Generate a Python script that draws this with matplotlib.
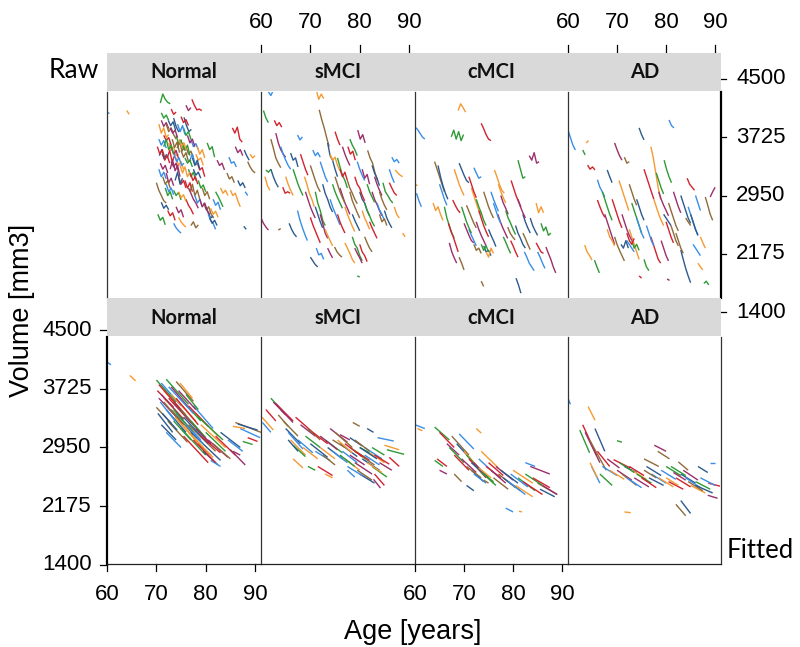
import matplotlib
matplotlib.use('Agg')
import matplotlib.pyplot as plt
from matplotlib.patches import Rectangle
from matplotlib.transforms import blended_transform_factory

# groups / panel labels
GROUPS = ['Normal', 'sMCI', 'cMCI', 'AD']
AGE_TICKS = [60, 70, 80, 90]
VOL_TICKS = [4500, 3725, 2950, 2175, 1400]
# visit times (years after baseline)
VISIT_YEARS = [0.0, 0.5, 1.0, 1.5, 2.0, 2.5]

COLORS = ['#3a8ee6', '#f59a33', '#2e9a35', '#d2232e', '#9b2f6b', '#8e6b3a', '#2d5b8e']

# raw data: (baseline age, volumes at each visit)
RAW_NORMAL = [
    (60.0, [4060, 4040]), (64.0, [4080, 4030]), (70.8, [4180, 4300, 4230, 4190, 4170]),
    (77.2, [4230, 4150, 4090, 4100, 4080]), (71.0, [3950, 3870, 3920, 3840]),
    (72.0, [3900, 3800, 3850, 3760, 3700]), (73.5, [3980, 3870, 3800, 3820]),
    (70.5, [3700, 3620, 3680, 3580]), (72.5, [3650, 3550, 3600, 3480, 3500]),
    (74.0, [3750, 3640, 3690, 3560]), (71.2, [3500, 3420, 3480, 3380]),
    (73.0, [3400, 3330, 3380, 3260]), (75.0, [3550, 3460, 3520, 3400, 3420]),
    (75.6, [3990, 3880, 3800, 3830]), (77.0, [3700, 3600, 3640, 3560]),
    (78.0, [3500, 3420, 3450, 3350]), (76.5, [3300, 3200, 3260, 3150]),
    (74.5, [3200, 3100, 3150, 3050]), (72.0, [3250, 3120, 3180, 3080]),
    (70.0, [3120, 3020, 2950, 2880, 2850]), (71.0, [2860, 2780, 2820, 2760]),
    (73.5, [2580, 2520, 2480, 2450]), (74.5, [2660, 2600, 2560, 2530]),
    (73.5, [3020, 2950, 2990, 2890]), (76.0, [2900, 2820, 2770, 2700]),
    (76.5, [3050, 2980, 2900, 2850, 2780]), (79.6, [2850, 2760, 2800, 2700, 2650]),
    (80.0, [2800, 2720, 2650, 2680]), (80.5, [2700, 2620, 2580, 2500]),
    (81.0, [2780, 2700, 2740, 2660]), (82.0, [3000, 2940, 2870, 2800]),
    (85.4, [3850, 3780, 3860, 3700, 3660]), (86.0, [3600, 3520, 3560, 3480]),
    (88.5, [3400, 3330, 3280, 3250]), (87.8, [3555, 3480, 3420]),
    (84.7, [3460, 3380, 3400, 3330]), (85.0, [3020, 2950, 2980, 2880, 2800]),
    (80.3, [3650, 3560, 3600, 3460]), (78.3, [3380, 3290, 3320, 3200]),
    (82.3, [3420, 3350, 3380, 3290]), (84.3, [3250, 3170, 3200, 3120]),
    (87.7, [2540, 2500]), (72.0, [3100, 3000, 3050, 2960]),
    (74.0, [3450, 3350, 3400, 3300]), (75.5, [3850, 3750, 3800, 3700]),
    (71.5, [3750, 3680, 3720, 3620]), (73.0, [3600, 3500, 3550, 3440]),
    (76.0, [3600, 3500, 3540, 3450]), (77.5, [3300, 3220, 3260, 3180]),
    (70.5, [3300, 3200, 3260, 3170]), (74.5, [3000, 2920, 2960, 2870]),
    (78.5, [3150, 3050, 3090, 3000]), (75.0, [4000, 3920, 3960, 3880]),
    (72.8, [3850, 3780, 3820, 3720]), (74.2, [3580, 3660, 3540, 3600]),
    (70.6, [3480, 3560, 3440, 3500]), (76.8, [3420, 3500, 3380, 3360]),
    (70.5, [3900, 3780, 3850, 3720, 3760]), (71.5, [3600, 3700, 3560, 3620, 3500]),
    (72.2, [3450, 3550, 3400, 3480]), (72.8, [3300, 3420, 3280, 3350, 3200]),
    (73.2, [3700, 3590, 3660, 3520]), (73.8, [3150, 3260, 3100, 3180]),
    (74.3, [3900, 3800, 3880, 3760]), (74.8, [3350, 3250, 3330, 3200, 3260]),
    (75.3, [3650, 3550, 3620, 3480]), (75.8, [3150, 3050, 3120, 3000]),
    (76.3, [3750, 3650, 3700, 3600]), (76.8, [3000, 3100, 2950, 3020, 2900]),
    (77.3, [3450, 3350, 3420, 3300]), (77.8, [2950, 2850, 2900, 2800]),
    (78.3, [3600, 3500, 3560, 3450]), (71.8, [3050, 2950, 3000, 2900]),
    (70.2, [3600, 3500, 3560, 3450]), (70.8, [3380, 3300, 3350, 3250]),
    (71.3, [3200, 3100, 3150, 3050]), (72.4, [3950, 3880, 3930, 3820]),
    (73.6, [3500, 3400, 3450, 3350, 3380]), (74.6, [3700, 3600, 3650, 3550]),
    (75.8, [3450, 3380, 3420, 3330]), (76.9, [3250, 3150, 3200, 3100]),
    (78.8, [2900, 2800, 2850, 2750, 2700]), (79.3, [3050, 2950, 3000, 2900]),
    (80.8, [2650, 2580, 2620, 2550]), (81.5, [2900, 2820, 2860, 2760]),
    (83.0, [3050, 2980, 3020, 2950]), (70.3, [2700, 2620, 2660, 2560]),
    (72.3, [2750, 2680, 2720, 2620]), (74.0, [2800, 2720, 2760, 2660]),
    (77.0, [2550, 2600, 2520, 2560]), (86.5, [3150, 3080, 3120, 3050]),
    (88.0, [3000, 2950]), (89.0, [3500, 3450, 3480]),
    (71.0, [4050, 3980, 4020, 3950]), (73.0, [4100, 4030, 4060]),
    (76.0, [4150, 4080, 4120]),
]

RAW_SMCI = [
    (61.5, [4330, 4280, 4350]), (71.2, [4350, 4230, 4300, 4240]),
    (60.5, [4080, 3980, 3920]), (62.7, [3950, 3880, 3920, 3860]),
    (63.0, [3780, 3650, 3560, 3500, 3460]), (62.0, [3700, 3580, 3450, 3380, 3320]),
    (66.0, [3515, 3420, 3450, 3330]), (67.4, [3755, 3690, 3730]),
    (60.8, [3200, 3080, 3020]), (61.0, [3290, 3260, 3300]),
    (64.4, [3060, 2980, 3000, 2980]), (60.0, [2650, 2580, 2530, 2490]),
    (63.5, [2490, 2510]), (65.7, [2580, 2500, 2440, 2400]),
    (67.4, [2750, 2620, 2520, 2430, 2350]), (68.8, [3200, 3100, 2980, 2900, 2800]),
    (71.0, [3000, 2850, 2750, 2620, 2550]), (70.0, [2660, 2560, 2480, 2400, 2320]),
    (72.0, [2700, 2580, 2450, 2380]), (71.8, [4090, 3960, 3850, 3720, 3600]),
    (73.5, [3650, 3480, 3420, 3300, 3200]), (70.5, [3555, 3480, 3520, 3460]),
    (74.0, [3500, 3420, 3460, 3350, 3280]), (75.5, [3450, 3330, 3220, 3150, 3050]),
    (77.6, [3600, 3500, 3540, 3420]), (79.6, [3820, 3700, 3760, 3650]),
    (81.6, [3550, 3450, 3380, 3250, 3150]), (82.5, [3350, 3250, 3180, 3080]),
    (86.5, [3460, 3400, 3430, 3380]), (87.2, [3290, 3250, 3220, 3200]),
    (84.7, [3120, 3000, 2950, 2890, 2850]), (86.0, [3120, 3050, 2985, 2950]),
    (76.0, [3050, 2950, 2850, 2780, 2700]), (78.0, [3000, 2880, 2800, 2720, 2650]),
    (80.0, [3000, 2900, 2850, 2750, 2680]), (74.0, [2900, 2800, 2720, 2640, 2560]),
    (77.0, [2800, 2700, 2620, 2540, 2470]), (81.0, [2850, 2750, 2680, 2600, 2540]),
    (79.0, [3200, 3100, 3050, 2950, 2880]), (82.5, [3000, 2900, 2830, 2750, 2680]),
    (75.0, [3200, 3100, 3000, 2920, 2850]), (72.5, [3100, 2980, 2900, 2800, 2730]),
    (83.5, [2850, 2760, 2700, 2620]), (77.0, [2320, 2250, 2180, 2100, 2050]),
    (78.5, [2400, 2300, 2250, 2150, 2080]), (80.0, [2300, 2200, 2150, 2070]),
    (79.0, [2250, 2180, 2120, 2050]), (74.9, [2265, 2200, 2160, 2130]),
    (70.0, [2130, 2080, 2030, 2000]), (71.2, [2250, 2160, 2180, 2100]),
    (88.7, [2450, 2400]), (79.5, [1880, 1865]), (76.0, [3300, 3200, 3260, 3150]),
    (80.5, [3300, 3180, 3230, 3100]), (84.0, [2700, 2600, 2640, 2550]),
    (62.0, [3300, 3200, 3120, 3060]), (64.0, [3600, 3500, 3420, 3350, 3300]),
    (65.0, [3200, 3100, 3020, 2950]), (66.5, [3300, 3200, 3100, 3020, 2950]),
    (68.0, [3500, 3400, 3300, 3220]), (69.0, [3000, 2900, 2800, 2720, 2650]),
    (70.0, [3350, 3250, 3150, 3060, 3000]), (71.0, [2800, 2700, 2600, 2520]),
    (72.0, [3400, 3300, 3200, 3130]), (73.0, [2500, 2420, 2350, 2280]),
    (74.5, [3100, 3000, 2920, 2850, 2780]), (75.5, [2700, 2600, 2520, 2450]),
    (76.5, [3600, 3500, 3420, 3350]), (77.5, [3150, 3050, 2980, 2900, 2840]),
    (78.5, [2700, 2620, 2550, 2480]), (79.5, [3400, 3300, 3220, 3150]),
    (80.5, [2750, 2650, 2580, 2500]), (81.5, [3100, 3000, 2930, 2860]),
    (82.0, [2600, 2520, 2450, 2380]), (83.0, [3200, 3100, 3020, 2950]),
    (84.0, [3000, 2900, 2820, 2760]), (85.0, [2750, 2650, 2580, 2520]),
    (86.0, [3300, 3200, 3120]), (87.0, [2800, 2700, 2650]),
    (78.0, [3700, 3620, 3560, 3480]), (75.0, [3800, 3700, 3620]),
    (73.5, [2250, 2180, 2120]), (81.0, [2400, 2320, 2250, 2200]),
]

RAW_CMCI = [
    (60.0, [3860, 3830, 3780, 3730, 3700]), (68.8, [4080, 4170, 4120, 4060]),
    (67.4, [3730, 3820, 3700, 3800, 3680, 3760]), (73.5, [3910, 3840, 3760, 3700, 3680]),
    (83.3, [3480, 3420, 3520, 3380, 3400]), (64.0, [3400, 3300, 3200, 3100, 3000]),
    (64.7, [3350, 3200, 3080, 2980, 2900]), (60.3, [2980, 2880, 2800]),
    (63.7, [2850, 2750, 2800, 2700, 2620]), (66.0, [2800, 2650, 2550, 2450, 2380]),
    (66.8, [2580, 2480, 2400, 2300, 2200]), (67.0, [2320, 2200, 2120, 2050]),
    (69.0, [2130, 2050, 1960]), (69.0, [3380, 3300, 3220, 3150, 3120]),
    (72.0, [3320, 3250, 3180, 3200]), (71.5, [3050, 2950, 2850, 2750, 2700]),
    (72.5, [2900, 2800, 2720, 2620, 2550]), (73.0, [2750, 2650, 2550, 2470, 2400]),
    (70.0, [2580, 2500, 2420, 2350, 2320]), (72.0, [2300, 2220, 2250, 2180]),
    (74.0, [2280, 2200, 2220, 2150]), (75.5, [3000, 2900, 2820, 2740]),
    (76.2, [3290, 3200, 3100, 3020, 2980]), (81.0, [3420, 3300, 3180, 3200]),
    (79.6, [3150, 3050, 2950, 2870, 2800]), (76.9, [2700, 2600, 2520, 2450, 2380]),
    (78.9, [2530, 2450, 2400, 2360]), (80.5, [2550, 2450, 2380, 2300, 2250]),
    (82.3, [2200, 2130, 2050, 2000, 1950]), (84.7, [2850, 2720, 2800, 2720]),
    (85.7, [2580, 2480, 2530, 2420, 2450]), (84.7, [2320, 2260, 2200, 2180]),
    (86.7, [2265, 2180, 2100, 2000, 1920]), (73.5, [1810, 1740]),
    (80.6, [1850, 1760, 1650]), (71.0, [2500, 2420, 2350, 2280]),
    (60.0, [3100, 3080]), (78.0, [2400, 2330, 2250, 2180]),
    (67.7, [2890, 2820, 2760, 2720]), (77.5, [2950, 2850, 2780, 2700]),
    (70.5, [2820, 2740, 2660, 2580, 2520]), (82.0, [2700, 2600, 2520, 2450]),
    (65.0, [3100, 3000, 2900, 2820]), (68.0, [3300, 3200, 3100, 3020, 2950]),
    (69.5, [2800, 2700, 2600, 2520, 2450]), (71.0, [3200, 3100, 3000, 2920]),
    (72.5, [2600, 2500, 2420, 2350, 2280]), (74.0, [3000, 2900, 2800, 2720, 2650]),
    (75.0, [2500, 2420, 2350, 2270]), (76.0, [2850, 2750, 2650, 2580]),
    (77.0, [3100, 3000, 2920, 2850]), (78.5, [2750, 2650, 2580, 2500, 2430]),
    (79.5, [2350, 2280, 2200, 2130]), (81.0, [2900, 2800, 2720, 2650]),
    (82.0, [2450, 2380, 2300, 2230]), (83.5, [2650, 2550, 2480, 2420]),
    (85.0, [2200, 2130, 2050, 1980]), (74.5, [2200, 2130, 2250, 2180]),
    (73.5, [2300, 2220, 2280, 2200]),
]

RAW_AD = [
    (60.0, [3820, 3720, 3620, 3555]), (63.7, [3650, 3680]), (63.0, [3555, 3490]),
    (64.0, [3355, 3300, 3330, 3290]), (69.5, [3650, 3560, 3480, 3420]),
    (71.5, [3460, 3380, 3400]), (74.5, [3850, 3760, 3690]), (80.6, [3955, 3880, 3850]),
    (76.9, [3600, 3450, 3250, 3050, 2900]), (79.6, [3420, 3300, 3200, 3120]),
    (84.3, [3180, 3100, 3060, 3020]), (89.0, [2930, 3000, 3060]),
    (88.0, [2930, 2820, 2700, 2620]), (68.0, [3290, 3200, 3120]),
    (66.0, [3160, 3060, 3000, 2930]), (70.4, [3150, 3050, 2950, 2850, 2750]),
    (73.0, [2850, 2750, 2650, 2550, 2450]), (75.5, [3300, 3200, 3100, 3000, 2900]),
    (78.5, [3000, 2900, 2820, 2750, 2680]), (80.5, [2850, 2750, 2650, 2550, 2480]),
    (83.0, [2950, 2850, 2750, 2650, 2580]), (84.5, [2800, 2700, 2600, 2500, 2420]),
    (63.4, [2290, 2200, 2150, 2090]), (65.4, [2090, 2000, 1920]),
    (66.0, [2890, 2800, 2720, 2660]), (67.5, [2700, 2600, 2500, 2400, 2300]),
    (69.5, [2400, 2300, 2220, 2150, 2080]), (70.8, [2300, 2250, 2350, 2250]),
    (72.0, [2350, 2300, 2250, 2200]), (72.5, [2500, 2400, 2300, 2200, 2100]),
    (75.5, [2100, 2000, 1950]), (76.9, [2400, 2300, 2200, 2100, 2050]),
    (79.0, [2350, 2250, 2150, 2080]), (81.0, [2550, 2450, 2350, 2280]),
    (83.0, [2225, 2100, 1980, 1880, 1790]), (85.5, [2300, 2250, 2200, 2150]),
    (86.5, [2050, 2000, 1960]), (87.7, [1780, 1810, 1760]), (74.5, [1880, 1850]),
    (80.2, [1840, 1820]), (84.0, [2650, 2600, 2550]), (79.5, [2700, 2650, 2600, 2550]),
    (74.0, [2650, 2550, 2450, 2380]), (68.0, [2500, 2400, 2350, 2280]),
    (67.0, [3000, 2900, 2800, 2700, 2620]), (69.0, [2900, 2800, 2700, 2600, 2520]),
    (71.0, [2700, 2600, 2500, 2420, 2350]), (72.5, [3100, 3000, 2900, 2820]),
    (74.0, [2900, 2800, 2700, 2620]), (76.0, [2550, 2450, 2350, 2280]),
    (77.5, [2900, 2800, 2700, 2620, 2550]), (78.0, [3250, 3150, 3050, 2970]),
    (80.0, [2600, 2500, 2400, 2320]), (81.5, [3000, 2900, 2800, 2720]),
    (82.0, [2450, 2350, 2250, 2180]), (85.0, [2700, 2600, 2500, 2420]),
    (86.0, [2950, 2850, 2750]), (87.0, [2400, 2320, 2250]),
    (73.0, [2350, 2250, 2300, 2220]), (72.0, [2450, 2350, 2300, 2380]),
]

# fitted data: (age start, age end, volume start, volume end)
FIT_NORMAL = [
    (60.0, 60.8, 4080, 4040), (64.6, 65.8, 3900, 3830), (70.0, 74.0, 3840, 3550),
    (70.2, 73.5, 3700, 3480), (70.5, 74.5, 3600, 3330), (70.0, 73.0, 3480, 3270),
    (70.3, 73.3, 3400, 3150), (71.0, 75.0, 3800, 3500), (71.5, 76.0, 3700, 3380),
    (72.0, 76.5, 3850, 3520), (72.5, 77.0, 3600, 3280), (72.0, 75.5, 3500, 3250),
    (73.0, 77.5, 3450, 3120), (73.5, 78.0, 3550, 3220), (74.0, 79.0, 3400, 3050),
    (74.5, 79.5, 3300, 2950), (75.0, 80.0, 3200, 2850), (75.5, 80.5, 3100, 2750),
    (76.0, 81.0, 3350, 3000), (76.5, 82.0, 3250, 2900), (77.0, 83.0, 3150, 2780),
    (77.5, 81.5, 3500, 3200), (78.0, 82.5, 3400, 3100), (75.5, 79.0, 3550, 3300),
    (76.5, 80.5, 3500, 3230), (73.0, 76.5, 3750, 3480), (74.0, 77.5, 3820, 3560),
    (71.0, 74.0, 3250, 3050), (72.0, 75.0, 3150, 2950), (79.0, 84.0, 3250, 2950),
    (80.0, 84.0, 3150, 2900), (82.0, 86.0, 3100, 2850), (85.0, 88.0, 2920, 2720),
    (86.0, 91.2, 3280, 3150), (86.5, 90.5, 3260, 3180), (87.0, 91.0, 3200, 3080),
    (85.5, 88.0, 3230, 3200), (87.5, 89.5, 3030, 2990), (88.5, 90.5, 3080, 3030),
    (85.5, 87.0, 2900, 2850), (78.5, 81.0, 3000, 2850), (79.5, 82.5, 2900, 2720),
    (81.0, 83.0, 2780, 2700), (71.5, 75.5, 3600, 3330), (73.5, 77.0, 3300, 3050),
    (70.5, 75.0, 3780, 3450), (71.0, 75.5, 3650, 3320), (71.5, 75.0, 3550, 3280),
    (72.0, 76.0, 3450, 3150), (72.5, 77.5, 3750, 3400), (73.0, 78.0, 3650, 3300),
    (73.5, 77.5, 3450, 3150), (74.0, 78.5, 3600, 3250), (74.5, 78.0, 3700, 3450),
    (75.0, 79.5, 3450, 3100), (75.5, 80.5, 3350, 3000), (76.0, 79.5, 3250, 3000),
    (76.5, 81.5, 3150, 2820), (77.0, 80.0, 3300, 3080), (77.5, 82.0, 3050, 2750),
    (78.0, 81.0, 3200, 3000), (72.3, 76.3, 3300, 3020), (71.2, 74.2, 3400, 3180),
    (70.8, 73.8, 3550, 3300), (73.8, 78.3, 3350, 3020), (78.5, 83.5, 3350, 3050),
    (79.0, 83.0, 3100, 2880), (80.5, 84.5, 3050, 2820), (81.5, 85.0, 3000, 2800),
    (83.0, 87.0, 3150, 2950), (84.5, 87.5, 3050, 2900), (74.8, 77.3, 3800, 3600),
    (76.0, 78.5, 3650, 3450),
]

FIT_SMCI = [
    (60.3, 62.0, 3280, 3150), (60.2, 62.5, 3350, 3180), (62.0, 64.5, 3600, 3420),
    (63.0, 66.5, 3530, 3300), (64.0, 66.5, 3450, 3280), (63.5, 65.5, 3380, 3230),
    (65.0, 68.0, 3200, 3000), (65.5, 68.5, 3150, 2930), (66.0, 69.0, 3050, 2850),
    (66.5, 69.0, 2980, 2830), (67.0, 70.5, 3350, 3150), (68.0, 71.0, 3250, 3100),
    (69.5, 72.0, 3200, 3050), (70.0, 73.5, 3000, 2820), (71.0, 74.0, 2900, 2780),
    (72.0, 75.0, 2950, 2800), (73.0, 76.5, 3050, 2880), (71.5, 74.5, 2700, 2580),
    (74.0, 77.5, 3200, 3020), (75.0, 78.5, 3150, 2950), (76.0, 79.5, 3000, 2830),
    (76.5, 79.5, 2900, 2750), (77.0, 80.0, 2800, 2650), (78.0, 81.5, 2950, 2800),
    (79.0, 82.0, 2900, 2780), (79.0, 82.5, 2750, 2600), (80.0, 83.0, 2850, 2720),
    (80.5, 84.0, 2800, 2650), (81.0, 84.5, 2950, 2800), (82.0, 85.0, 2880, 2750),
    (82.5, 85.5, 2700, 2560), (83.0, 85.0, 2600, 2450), (82.8, 84.2, 2530, 2415),
    (78.6, 80.0, 3280, 3230), (81.5, 82.8, 3200, 3150), (83.6, 86.9, 3080, 3035),
    (85.0, 88.0, 2980, 2920), (85.5, 89.0, 2920, 2860), (86.0, 88.0, 2820, 2700),
    (76.0, 78.0, 3120, 3050), (74.5, 77.0, 3050, 2950), (78.0, 80.5, 3080, 2970),
    (77.5, 79.0, 2650, 2560), (73.0, 74.5, 2600, 2550), (80.0, 82.0, 2950, 2880),
    (61.0, 63.0, 3450, 3300), (62.5, 65.0, 3550, 3380), (64.5, 67.5, 3300, 3100),
    (65.5, 67.5, 3050, 2900), (67.5, 70.5, 3050, 2880), (68.5, 71.5, 2950, 2800),
    (69.0, 72.0, 3100, 2950), (70.5, 73.5, 3150, 3000), (72.0, 75.5, 3100, 2920),
    (72.5, 75.0, 2850, 2720), (73.5, 76.5, 2950, 2800), (74.5, 77.5, 2900, 2750),
    (75.5, 78.5, 3050, 2880), (76.0, 79.0, 2850, 2700), (77.0, 80.5, 3000, 2830),
    (78.0, 81.0, 2850, 2720), (79.0, 82.0, 3050, 2900), (80.0, 83.5, 2950, 2800),
    (81.0, 84.0, 2850, 2720), (81.5, 84.5, 2750, 2620), (82.5, 85.0, 2950, 2850),
    (83.0, 86.0, 2850, 2730), (84.0, 86.5, 2750, 2650), (79.5, 82.5, 2650, 2520),
    (80.0, 83.0, 2600, 2480), (77.5, 80.5, 2700, 2580), (66.5, 68.5, 2800, 2680),
    (69.5, 71.0, 2700, 2650),
]

FIT_CMCI = [
    (60.0, 62.0, 3250, 3200), (60.5, 61.5, 3200, 3170), (64.0, 67.0, 3220, 3050),
    (65.0, 68.0, 3150, 2950), (66.5, 69.0, 3000, 2850), (67.5, 71.0, 3100, 2850),
    (68.5, 72.0, 3000, 2750), (69.0, 72.0, 3130, 2930), (70.0, 73.0, 2900, 2680),
    (70.5, 74.0, 2850, 2600), (71.0, 74.5, 2800, 2550), (72.0, 75.0, 2750, 2550),
    (72.5, 76.0, 2700, 2480), (71.5, 74.0, 2650, 2500), (73.0, 76.0, 2800, 2620),
    (73.5, 77.0, 2900, 2680), (74.0, 76.5, 2600, 2450), (75.0, 78.0, 2750, 2580),
    (76.5, 80.0, 2700, 2520), (77.0, 80.5, 2600, 2420), (78.0, 81.5, 2550, 2380),
    (79.0, 82.5, 2500, 2330), (80.0, 84.0, 2650, 2480), (81.0, 84.5, 2550, 2380),
    (82.0, 86.0, 2500, 2330), (83.5, 87.5, 2700, 2600), (85.0, 89.0, 2480, 2330),
    (85.5, 88.5, 2400, 2300), (82.5, 84.5, 2750, 2700), (72.5, 73.5, 3200, 3140),
    (64.0, 65.7, 2780, 2700), (64.5, 66.5, 2800, 2700), (65.0, 66.5, 2650, 2600),
    (68.0, 69.5, 2600, 2500), (70.5, 72.0, 2450, 2380), (78.5, 80.0, 2150, 2100),
    (81.2, 81.8, 2110, 2100),
    (67.0, 70.0, 2950, 2750), (68.0, 71.0, 2850, 2650), (69.5, 72.5, 2800, 2620),
    (70.5, 73.5, 2700, 2550), (71.5, 75.0, 2750, 2550), (72.0, 74.5, 2600, 2480),
    (73.0, 75.5, 2680, 2550), (73.5, 76.0, 2620, 2500), (74.5, 77.5, 2700, 2550),
    (75.5, 78.5, 2650, 2480), (76.0, 79.0, 2550, 2400), (77.5, 81.0, 2650, 2480),
    (79.5, 83.0, 2600, 2430), (80.5, 84.0, 2450, 2300), (82.5, 86.0, 2600, 2450),
    (84.0, 87.5, 2550, 2420), (86.0, 89.0, 2450, 2330), (74.0, 75.0, 2520, 2480),
]

FIT_AD = [
    (60.0, 60.5, 3600, 3520), (64.1, 65.5, 3490, 3310), (62.4, 64.4, 3180, 2880),
    (63.0, 65.8, 3250, 2850), (63.5, 66.5, 3150, 2750), (64.4, 67.8, 3050, 2650),
    (65.5, 67.5, 3200, 2900), (64.8, 66.5, 2700, 2480), (64.5, 66.0, 2750, 2550),
    (66.5, 69.0, 2600, 2450), (69.3, 72.7, 2790, 2680), (70.0, 73.0, 2650, 2520),
    (71.0, 74.0, 2600, 2450), (71.5, 74.0, 2700, 2620), (72.0, 75.0, 2550, 2420),
    (73.0, 76.0, 2650, 2530), (74.0, 77.0, 2600, 2480), (75.0, 78.0, 2550, 2420),
    (77.6, 80.0, 2980, 2900), (78.3, 80.7, 2900, 2800), (76.0, 79.0, 2700, 2580),
    (77.0, 80.0, 2600, 2480), (78.5, 81.5, 2550, 2430), (80.0, 83.0, 2700, 2580),
    (80.5, 83.5, 2500, 2400), (81.5, 84.0, 2620, 2520), (82.5, 84.5, 2760, 2650),
    (83.0, 86.0, 2600, 2480), (84.0, 87.0, 2550, 2420), (85.0, 88.0, 2450, 2350),
    (86.0, 89.0, 2500, 2400), (88.6, 91.0, 2480, 2440), (88.5, 90.5, 2320, 2280),
    (82.0, 84.0, 2200, 2050), (83.0, 85.0, 2250, 2080), (89.0, 90.0, 2740, 2740),
    (71.5, 72.8, 2100, 2090), (70.0, 71.0, 3040, 3020), (66.0, 68.5, 2900, 2700),
    (68.0, 70.5, 2800, 2680), (75.5, 78.5, 2800, 2700), (86.5, 88.5, 2700, 2620),
    (67.0, 70.0, 2700, 2580), (68.5, 71.5, 2650, 2530), (70.5, 73.5, 2750, 2620),
    (72.5, 75.5, 2700, 2580), (73.5, 76.5, 2550, 2430), (75.5, 78.0, 2650, 2550),
    (76.5, 79.5, 2550, 2450), (79.0, 82.0, 2650, 2530), (80.0, 82.5, 2550, 2450),
    (81.0, 84.0, 2700, 2580), (82.0, 85.0, 2550, 2430), (83.5, 86.5, 2650, 2520),
    (84.5, 87.5, 2500, 2380), (86.0, 89.5, 2450, 2350), (87.0, 90.0, 2550, 2450),
]

RAW = [RAW_NORMAL, RAW_SMCI, RAW_CMCI, RAW_AD]
FIT = [FIT_NORMAL, FIT_SMCI, FIT_CMCI, FIT_AD]

W, H = 800, 647
fig = plt.figure(figsize=(W / 100, H / 100), dpi=100)

TICK_FONT = dict(family=['Liberation Sans', 'DejaVu Sans'], size=16)
LABEL_FONT = dict(family=['Liberation Sans', 'DejaVu Sans'], size=19.5)
STRIP_FONT = dict(family=['Lato', 'DejaVu Sans'], size=14.5, weight='bold')


def fx(px):
    return px / W


def fy(py):
    return 1 - py / H


col_left = [107, 261, 415, 568]
col_right = [261, 415, 568, 721]
# row geometry in pixels: (panel top, panel bottom, strip top, y of 4500, y of 1400)
rows = [(92, 298, 53, 79, 312), (337, 564, 298, 330, 565)]

axes = []
for r, (top, bot, stop, y_hi, y_lo) in enumerate(rows):
    per_px = (4500 - 1400) / (y_lo - y_hi)
    ylim = (4500 - (bot - y_hi) * per_px, 4500 - (top - y_hi) * per_px)
    row_axes = []
    for c in range(4):
        ax = fig.add_axes([fx(col_left[c]), fy(bot), fx(col_right[c] - col_left[c]), (bot - top) / H])
        ax.set_xlim(60, 91.2)
        ax.set_ylim(*ylim)
        ax.set_xticks([])
        ax.set_yticks([])
        for s in ax.spines.values():
            s.set_visible(False)
        ax.spines['left'].set_visible(True)
        ax.spines['left'].set_color('#333333')
        ax.spines['left'].set_linewidth(0.9)
        if r == 1:
            ax.spines['bottom'].set_visible(True)
            ax.spines['bottom'].set_color('#222222')
            ax.spines['bottom'].set_linewidth(0.9)
        row_axes.append(ax)
    axes.append(row_axes)

    # strip
    fig.patches.append(Rectangle((fx(107), fy(top - 1)), fx(721 - 107), (top - 1 - stop) / H,
                                 transform=fig.transFigure, facecolor='#d9d9d9',
                                 edgecolor='none', zorder=5))
    for c, g in enumerate(GROUPS):
        fig.text(fx((col_left[c] + col_right[c]) / 2), fy((stop + top) / 2), g,
                 ha='center', va='center', zorder=6, color='#111111', **STRIP_FONT)

# data
for c in range(4):
    ax = axes[0][c]
    for i, (a0, vols) in enumerate(RAW[c]):
        ages = [a0 + d for d in VISIT_YEARS[:len(vols)]]
        ax.plot(ages, vols, color=COLORS[i % len(COLORS)], lw=1.0, solid_capstyle='butt')
    ax = axes[1][c]
    for i, (a0, a1, v0, v1) in enumerate(FIT[c]):
        ax.plot([a0, a1], [v0, v1], color=COLORS[i % len(COLORS)], lw=1.0, solid_capstyle='butt')

# right axis of raw row
ax_r = axes[0][3]
ax_r.spines['right'].set_visible(True)
ax_r.spines['right'].set_color('black')
ax_r.spines['right'].set_linewidth(1.6)
tr = blended_transform_factory(ax_r.transAxes, ax_r.transData)
for v in VOL_TICKS:
    ax_r.plot([1.0, 1.035], [v, v], transform=tr, color='black', lw=0.9, clip_on=False)
    ax_r.text(1.10, v, str(v), transform=tr, ha='left', va='center', **TICK_FONT)

# left axis of fitted row
ax_l = axes[1][0]
ax_l.spines['left'].set_color('black')
ax_l.spines['left'].set_linewidth(1.6)
tl = blended_transform_factory(ax_l.transAxes, ax_l.transData)
for v in VOL_TICKS:
    ax_l.plot([0.0, -0.045], [v, v], transform=tl, color='black', lw=0.9, clip_on=False)
    ax_l.text(-0.10, v, str(v), transform=tl, ha='right', va='center', **TICK_FONT)

# right border of fitted AD panel
axes[1][3].spines['right'].set_visible(True)
axes[1][3].spines['right'].set_color('#333333')
axes[1][3].spines['right'].set_linewidth(0.9)

# top age ticks (sMCI, AD) and bottom age ticks (Normal, cMCI)
for c in (1, 3):
    ax = axes[0][c]
    tt = blended_transform_factory(ax.transData, fig.transFigure)
    for a in AGE_TICKS:
        ax.plot([a, a], [fy(45), fy(52)], transform=tt, color='black', lw=0.9, clip_on=False)
        ax.text(a, fy(23), str(a), transform=tt, ha='center', va='center', **TICK_FONT)
for c in (0, 2):
    ax = axes[1][c]
    tb = blended_transform_factory(ax.transData, fig.transFigure)
    for a in AGE_TICKS:
        ax.plot([a, a], [fy(564), fy(571)], transform=tb, color='black', lw=0.9, clip_on=False)
        ax.text(a, fy(595), str(a), transform=tb, ha='center', va='center', **TICK_FONT)

# labels
fig.text(fx(22), fy(310), 'Volume [mm3]', rotation=90, ha='center', va='center', **LABEL_FONT)
fig.text(fx(413), fy(632), 'Age [years]', ha='center', va='center', **LABEL_FONT)
fig.text(fx(74), fy(71), 'Raw', ha='center', va='center', family=['Lato', 'DejaVu Sans'], size=19)
fig.text(fx(760), fy(550), 'Fitted', ha='center', va='center', family=['Lato', 'DejaVu Sans'], size=18.5)

fig.savefig('out.png', dpi=100)
